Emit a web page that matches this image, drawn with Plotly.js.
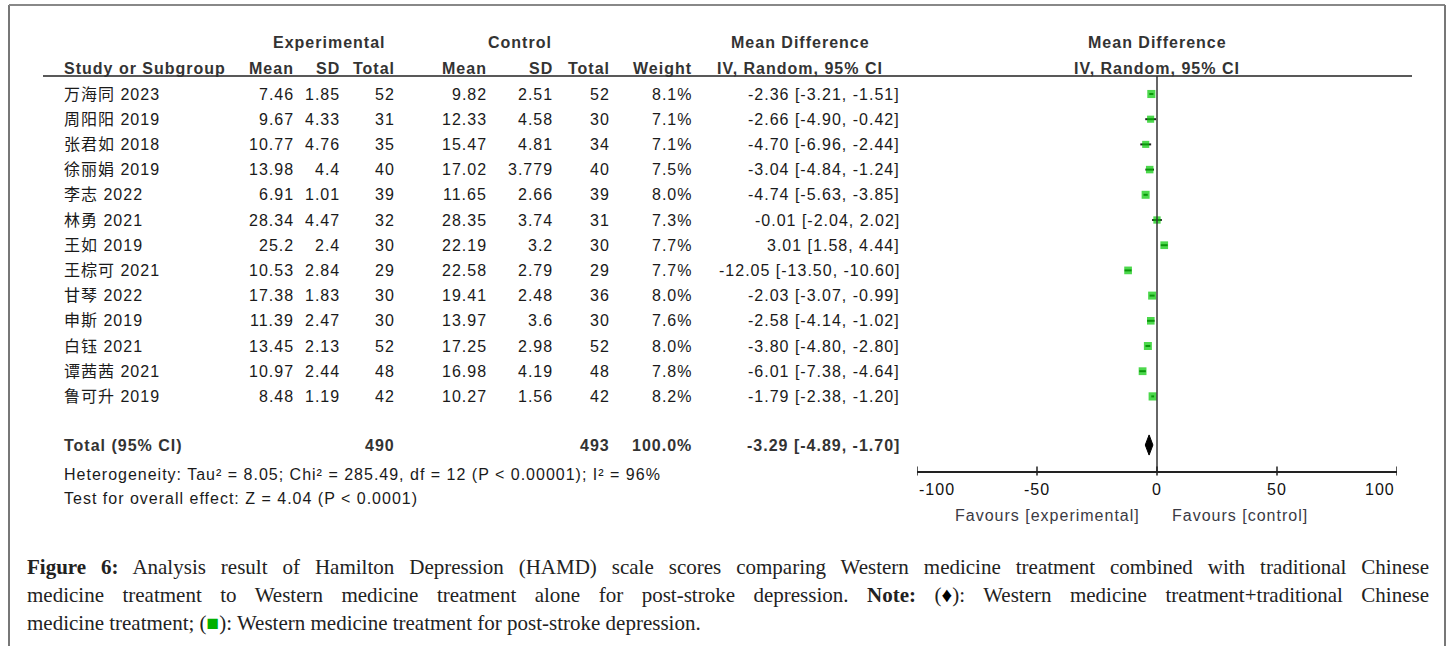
<!DOCTYPE html>
<html><head><meta charset="utf-8">
<script src="https://cdn.plot.ly/plotly-3.0.1.min.js"></script>
<style>
html,body{margin:0;padding:0;background:#fff;}
#chart{width:1452px;height:646px;}
.annotation-text{letter-spacing:1px;}
.xtick text{letter-spacing:1px;}
</style></head><body><div id="chart"></div>
<script>
// ---------- data ----------
const studies = ['万海同 2023','周阳阳 2019','张君如 2018','徐丽娟 2019','李志 2022','林勇 2021','王如 2019','王棕可 2021','甘琴 2022','申斯 2019','白钰 2021','谭茜茜 2021','鲁可升 2019'];
const expMean = [7.46, 9.67, 10.77, 13.98, 6.91, 28.34, 25.2, 10.53, 17.38, 11.39, 13.45, 10.97, 8.48];
const expSD   = [1.85, 4.33, 4.76, 4.4, 1.01, 4.47, 2.4, 2.84, 1.83, 2.47, 2.13, 2.44, 1.19];
const expN    = [52, 31, 35, 40, 39, 32, 30, 29, 30, 30, 52, 48, 42];
const ctlMean = [9.82, 12.33, 15.47, 17.02, 11.65, 28.35, 22.19, 22.58, 19.41, 13.97, 17.25, 16.98, 10.27];
const ctlSD   = [2.51, 4.58, 4.81, 3.779, 2.66, 3.74, 3.2, 2.79, 2.48, 3.6, 2.98, 4.19, 1.56];
const ctlN    = [52, 30, 34, 40, 39, 31, 30, 29, 36, 30, 52, 48, 42];
const weight  = [8.1, 7.1, 7.1, 7.5, 8.0, 7.3, 7.7, 7.7, 8.0, 7.6, 8.0, 7.8, 8.2];
const md      = [-2.36, -2.66, -4.70, -3.04, -4.74, -0.01, 3.01, -12.05, -2.03, -2.58, -3.80, -6.01, -1.79];
const ciLow   = [-3.21, -4.90, -6.96, -4.84, -5.63, -2.04, 1.58, -13.50, -3.07, -4.14, -4.80, -7.38, -2.38];
const ciHigh  = [-1.51, -0.42, -2.44, -1.24, -3.85, 2.02, 4.44, -10.60, -0.99, -1.02, -2.80, -4.64, -1.20];
const totalExpN = 490, totalCtlN = 493, totalWeight = 100.0;
const totalMD = -3.29, totalLow = -4.89, totalHigh = -1.70;
const tau2 = 8.05, chi2 = 285.49, df = 12, hetP = '< 0.00001', i2 = 96;
const zVal = 4.04, zP = '< 0.0001';
const tickVals = [-100, -50, 0, 50, 100];
const tickLabels = ['-100', '-50', '0', '50', '100'];
const favLeft = 'Favours [experimental]', favRight = 'Favours [control]';

// ---------- geometry helpers ----------
const W = 1452, H = 646;
const rowPx0 = 94, rowStep = 25.2;
const px = p => p / W;
const py = p => 1 - p / H;
const rowOf = p => (p - rowPx0) / rowStep;
const totalRow = rowOf(445);

const fam = 'Liberation Sans, Arial, Noto Sans CJK SC, sans-serif';
const bodyCol = '#1a1a1a', headCol = '#333333';
const ann = [];
function add(text, xp, y, xanchor, opts) {
  opts = opts || {};
  ann.push({
    text: text, x: opts.xref === 'x' ? xp : px(xp), xref: opts.xref || 'paper', y: y, yref: opts.yref || 'y',
    xanchor: xanchor, yanchor: 'middle', showarrow: false, align: xanchor === 'center' ? 'center' : xanchor,
    font: {family: opts.family || fam, size: opts.size || 16, color: opts.color || bodyCol, weight: opts.bold ? 'bold' : 'normal'}
  });
}
const colR = {expMean: 296, expSD: 342, expN: 397, ctlMean: 489, ctlSD: 555, ctlN: 612, weight: 694, ci: 902};
const nameX = 62;

// headers
const hb = {yref: 'paper', bold: true, color: headCol};
add('Experimental', 329, py(43), 'center', hb);
add('Control', 520, py(43), 'center', hb);
add('Mean Difference', 800, py(43), 'center', hb);
add('Mean Difference', 1157, py(43), 'center', hb);
add('Study or Subgroup', nameX, py(68), 'left', hb);
add('Mean', colR.expMean, py(68), 'right', hb);
add('SD', colR.expSD, py(68), 'right', hb);
add('Total', colR.expN, py(68), 'right', hb);
add('Mean', colR.ctlMean, py(68), 'right', hb);
add('SD', colR.ctlSD, py(68), 'right', hb);
add('Total', colR.ctlN, py(68), 'right', hb);
add('Weight', colR.weight, py(68), 'right', hb);
add('IV, Random, 95% CI', 800, py(68), 'center', hb);
add('IV, Random, 95% CI', 1157, py(68), 'center', hb);

// rows
const f2 = v => v.toFixed(2);
studies.forEach((s, i) => {
  add(s, nameX, i, 'left');
  add(String(expMean[i]), colR.expMean, i, 'right');
  add(String(expSD[i]), colR.expSD, i, 'right');
  add(String(expN[i]), colR.expN, i, 'right');
  add(String(ctlMean[i]), colR.ctlMean, i, 'right');
  add(String(ctlSD[i]), colR.ctlSD, i, 'right');
  add(String(ctlN[i]), colR.ctlN, i, 'right');
  add(weight[i].toFixed(1) + '%', colR.weight, i, 'right');
  add(f2(md[i]) + ' [' + f2(ciLow[i]) + ', ' + f2(ciHigh[i]) + ']', colR.ci, i, 'right');
});
// total row
add('Total (95% CI)', nameX, totalRow, 'left', {bold: true, color: headCol});
add(String(totalExpN), colR.expN, totalRow, 'right', {bold: true, color: headCol});
add(String(totalCtlN), colR.ctlN, totalRow, 'right', {bold: true, color: headCol});
add(totalWeight.toFixed(1) + '%', colR.weight, totalRow, 'right', {bold: true, color: headCol});
add(f2(totalMD) + ' [' + f2(totalLow) + ', ' + f2(totalHigh) + ']', colR.ci, totalRow, 'right', {bold: true, color: headCol});
add('Heterogeneity: Tau² = ' + tau2.toFixed(2) + '; Chi² = ' + chi2.toFixed(2) + ', df = ' + df + ' (P ' + hetP.replace('<', '&lt;') + '); I² = ' + i2 + '%', nameX, py(474), 'left', {yref: 'paper'});
add('Test for overall effect: Z = ' + zVal.toFixed(2) + ' (P ' + zP.replace('<', '&lt;') + ')', nameX, py(498), 'left', {yref: 'paper'});
// axis tick labels (end labels sit inside the axis ends, as in the reference)
tickVals.forEach((v, i) => {
  const anchor = i === 0 ? 'left' : (i === tickVals.length - 1 ? 'right' : 'center');
  add(tickLabels[i], v, py(489), anchor, {xref: 'x', yref: 'paper', color: '#111'});
});
// favours
add(favLeft, 1142, py(515), 'right', {yref: 'paper', color: '#3a3a44'});
add(favRight, 1170, py(515), 'left', {yref: 'paper', color: '#3a3a44'});

// caption
const capStart = ann.length;
const capFam = 'Liberation Serif, Times New Roman, serif';
const cap = [
  '<b>Figure 6:</b> Analysis result of Hamilton Depression (HAMD) scale scores comparing Western medicine treatment combined with traditional Chinese',
  'medicine treatment to Western medicine treatment alone for post-stroke depression. <b>Note:</b> (<span style="color:#000">♦</span>): Western medicine treatment+traditional Chinese',
  'medicine treatment; (<span style="color:#00b000">■</span>): Western medicine treatment for post-stroke depression.'
];
const capY = [567, 595, 623];
cap.forEach((t, i) => add(t, 25, py(capY[i]), 'left', {yref: 'paper', family: capFam, size: 21, color: '#222'}));

// ---------- shapes ----------
const shapes = [];
const line = (x0, y0, x1, y1, color, w, xref) => shapes.push({type: 'line', xref: xref || 'paper', yref: 'paper', x0: x0, y0: y0, x1: x1, y1: y1, line: {color: color, width: w}});
line(px(9), py(5), px(9), 0, '#777', 2);
line(px(9), py(5), px(1445), py(5), '#888', 2);
line(px(1445), py(5), px(1445), 0, '#777', 2);
line(px(43), py(76), px(1412), py(76), '#222', 1.5);
line(0, py(76), 0, py(471), '#333', 1.5, 'x');
tickVals.forEach(v => line(v, py(466.5), v, py(475.5), '#222', 1.5, 'x'));

// ---------- traces ----------
const studyTrace = {
  type: 'scatter', mode: 'markers', x: md, y: studies.map((s, i) => i),
  marker: {symbol: 'square', color: '#00c800', size: weight.map(w => w), line: {width: 0}},
  error_x: {type: 'data', symmetric: false, array: md.map((m, i) => ciHigh[i] - m), arrayminus: md.map((m, i) => m - ciLow[i]), color: '#222', thickness: 2, width: 0},
  hoverinfo: 'skip', cliponaxis: false
};
const dh = 0.4;
const diamond = {
  type: 'scatter', mode: 'lines', fill: 'toself', fillcolor: '#000',
  x: [totalLow, totalMD, totalHigh, totalMD, totalLow],
  y: [totalRow, totalRow - dh, totalRow, totalRow + dh, totalRow],
  line: {color: '#000', width: 1}, hoverinfo: 'skip'
};

const layout = {
  width: W, height: H, margin: {l: 0, r: 0, t: 0, b: 0},
  paper_bgcolor: '#fff', plot_bgcolor: 'rgba(0,0,0,0)', showlegend: false,
  xaxis: {domain: [px(917), px(1397)], range: [-100, 100], anchor: 'free', position: py(471),
    showline: true, linecolor: '#222', linewidth: 1.5, ticks: '', showticklabels: false,
    tickvals: tickVals, showgrid: false, zeroline: false, fixedrange: true},
  yaxis: {domain: [0, 1], range: [rowOf(H), rowOf(0)], visible: false, showgrid: false, zeroline: false, fixedrange: true},
  annotations: ann, shapes: shapes
};

Plotly.newPlot('chart', [studyTrace, diamond], layout, {staticPlot: true, displayModeBar: false}).then(gd => {
  const target = 1427 - 25;
  [0, 1, 2].forEach(k => {
    const t = gd.querySelector('g.annotation[data-index="' + (capStart + k) + '"] text.annotation-text');
    if (!t) return;
    t.style.letterSpacing = '0px';
    t.style.wordSpacing = '0px';
    if (k === 2) return;
    const n = (t.textContent.match(/ /g) || []).length;
    if (!n) return;
    let ws = 0;
    for (let it = 0; it < 4; it++) {
      const w = t.getBoundingClientRect().width;
      ws += (target - w) / n;
      if (ws < 0) ws = 0;
      t.style.wordSpacing = ws + 'px';
    }
  });
});
</script></body></html>
